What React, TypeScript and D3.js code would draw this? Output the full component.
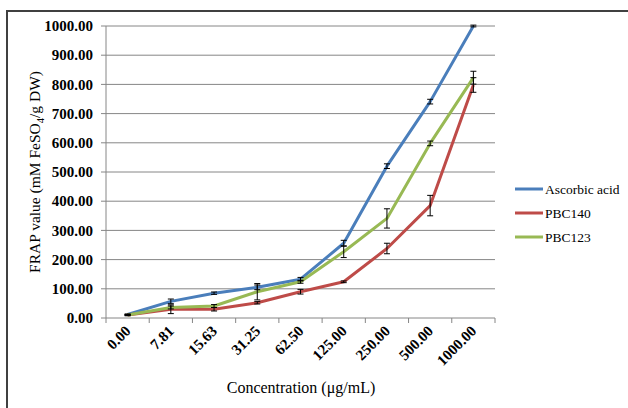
import * as d3 from 'd3';

const CATEGORIES = ['0.00', '7.81', '15.63', '31.25', '62.50', '125.00', '250.00', '500.00', '1000.00'];
const Y_TICKS = [0, 100, 200, 300, 400, 500, 600, 700, 800, 900, 1000];

const ASCORBIC = [12, 57, 85, 105, 133, 256, 520, 741, 1000];
const ASCORBIC_ERR = [2, 8, 4, 8, 6, 10, 8, 8, 3];
const PBC140 = [10, 30, 30, 52, 90, 124, 238, 385, 798];
const PBC140_ERR = [2, 15, 6, 4, 8, 3, 18, 35, 25];
const PBC123 = [10, 36, 41, 90, 124, 227, 341, 598, 823];
const PBC123_ERR = [2, 5, 5, 28, 5, 20, 33, 8, 22];

const SERIES = [
  { name: 'Ascorbic acid', values: ASCORBIC, err: ASCORBIC_ERR, color: '#4A7EBB' },
  { name: 'PBC140', values: PBC140, err: PBC140_ERR, color: '#BE4B48' },
  { name: 'PBC123', values: PBC123, err: PBC123_ERR, color: '#98B954' },
];

const W = 628;
const H = 408;
const PLOT = { left: 106, right: 495, top: 26, bottom: 318 };
const FONT = '"Liberation Serif", "Times New Roman", serif';
const AXIS = '#868686';

export default function App() {
  const x = d3.scaleBand().domain(CATEGORIES).range([PLOT.left, PLOT.right]).padding(0);
  const y = d3.scaleLinear().domain([0, 1000]).range([PLOT.bottom, PLOT.top]);
  const cx = (c: string) => (x(c) as number) + x.bandwidth() / 2;
  const line = d3.line<number>().x((_, i) => cx(CATEGORIES[i])).y(d => y(d));
  const boundaries = CATEGORIES.map(c => x(c) as number).concat([PLOT.right]);

  return (
    <svg width={W} height={H} style={{ position: 'absolute', left: 0, top: 0, background: '#fff' }}>
      <rect x={7} y={11} width={700} height={500} fill="#fff" stroke="#404040" strokeWidth={2} />

      {/* grid */}
      {Y_TICKS.filter(t => t > 0).map(t => (
        <line key={t} x1={PLOT.left} x2={PLOT.right} y1={y(t)} y2={y(t)} stroke={AXIS} strokeWidth={1} />
      ))}

      {/* y axis */}
      <line x1={PLOT.left} x2={PLOT.left} y1={PLOT.top} y2={PLOT.bottom} stroke={AXIS} />
      {Y_TICKS.map(t => (
        <g key={t}>
          <line x1={PLOT.left - 5} x2={PLOT.left} y1={y(t)} y2={y(t)} stroke={AXIS} />
          <text x={93} y={y(t)} dy="0.35em" textAnchor="end" fontFamily={FONT} fontWeight="bold" fontSize={15}>
            {t.toFixed(2)}
          </text>
        </g>
      ))}

      {/* x axis */}
      <line x1={PLOT.left} x2={PLOT.right} y1={PLOT.bottom} y2={PLOT.bottom} stroke={AXIS} />
      {boundaries.map((b, i) => (
        <line key={i} x1={b} x2={b} y1={PLOT.bottom} y2={PLOT.bottom + 5} stroke={AXIS} />
      ))}
      {CATEGORIES.map(c => (
        <text key={c} transform={`translate(${cx(c) + 4},${332}) rotate(-45)`} textAnchor="end"
          fontFamily={FONT} fontWeight="bold" fontSize={15}>
          {c}
        </text>
      ))}

      {/* series */}
      {SERIES.map(s => (
        <path key={s.name} d={line(s.values) as string} fill="none" stroke={s.color} strokeWidth={3} strokeLinejoin="round" />
      ))}
      {SERIES.map(s => s.values.map((v, i) => {
        const px = cx(CATEGORIES[i]);
        const y1 = y(v + s.err[i]);
        const y2 = y(v - s.err[i]);
        return (
          <g key={s.name + i} stroke="#000" strokeWidth={1}>
            <line x1={px} x2={px} y1={y1} y2={y2} />
            <line x1={px - 3} x2={px + 3} y1={y1} y2={y1} />
            <line x1={px - 3} x2={px + 3} y1={y2} y2={y2} />
          </g>
        );
      }))}

      {/* titles */}
      <text transform={`translate(40,${(PLOT.top + PLOT.bottom) / 2}) rotate(-90)`} textAnchor="middle"
        fontFamily={FONT} fontSize={15.5}>
        FRAP value (mM FeSO<tspan fontSize={10.5} dy={4}>4</tspan><tspan dy={-4}>/g DW)</tspan>
      </text>
      <text x={301} y={393} textAnchor="middle" fontFamily={FONT} fontSize={16}>
        Concentration (μg/mL)
      </text>

      {/* legend */}
      {SERIES.map((s, i) => (
        <g key={s.name} transform={`translate(515,${189 + i * 24})`}>
          <line x1={0} x2={28} y1={0} y2={0} stroke={s.color} strokeWidth={3} />
          <text x={30} y={0} dy="0.35em" fontFamily={FONT} fontSize={13.5}>{s.name}</text>
        </g>
      ))}
    </svg>
  );
}
